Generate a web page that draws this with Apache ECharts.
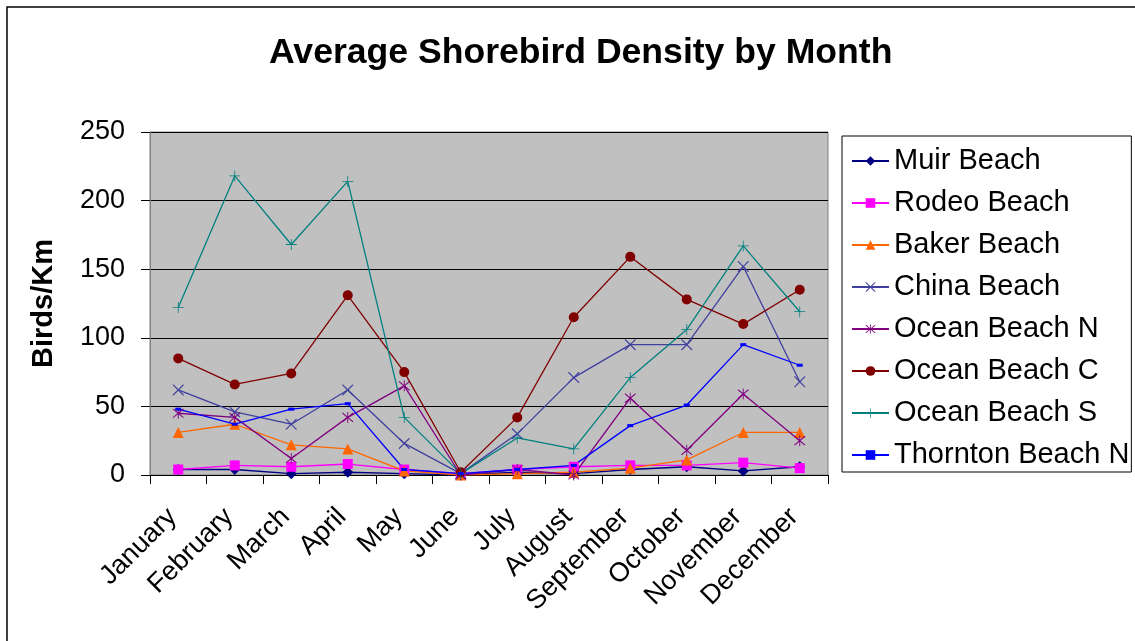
<!DOCTYPE html>
<html>
<head>
<meta charset="utf-8">
<title>Average Shorebird Density by Month</title>
<script src="https://cdn.jsdelivr.net/npm/echarts@6/dist/echarts.min.js"></script>
<style>
	html, body { margin: 0; padding: 0; background: #fff; }
	#chart { width: 1135px; height: 641px; }
</style>
</head>
<body>
<div id="chart"></div>
<script>
'use strict';

var months = ['January', 'February', 'March', 'April', 'May', 'June',
	'July', 'August', 'September', 'October', 'November', 'December'];

var muirBeach      = [4, 4, 1, 2, 1, 0, 2, 1, 4, 6, 3, 6];
var rodeoBeach     = [4, 7, 6, 8, 4, 1, 4, 6, 7, 7, 9, 5];
var bakerBeach     = [31, 37, 22, 19, 3, 0, 1, 2, 5, 11, 31, 31];
var chinaBeach     = [62, 46, 37, 62, 23, 1, 30, 71, 95, 95, 152, 68];
var oceanBeachN    = [45, 42, 12, 42, 65, 0, 4, 0, 56, 18, 59, 25];
var oceanBeachC    = [85, 66, 74, 131, 75, 2, 42, 115, 159, 128, 110, 135];
var oceanBeachS    = [122, 218, 168, 214, 42, 1, 27, 19, 71, 106, 167, 119];
var thorntonBeachN = [48, 37, 48, 52, 4, 1, 4, 7, 36, 51, 95, 80];

var yTicks = { min: 0, max: 250, interval: 50 };

(function(){

	// marker shapes drawn as filled paths
	var crossPath = 'path://M0,0L1.5,0L10,8.5L18.5,0L20,0L20,1.5L11.5,10L20,18.5L20,20L18.5,20L10,11.5L1.5,20L0,20L0,18.5L8.5,10L0,1.5Z';
	var plusPath = 'path://M9.3,0H10.7V9.3H20V10.7H10.7V20H9.3V10.7H0V9.3H9.3Z';
	var starPath = 'path://M0,0L1.5,0L10,8.5L18.5,0L20,0L20,1.5L11.5,10L20,18.5L20,20L18.5,20L10,11.5L1.5,20L0,20L0,18.5L8.5,10L0,1.5Z' +
		'M9.2,-2H10.8V22H9.2Z';

	var defs = [
		{ name: 'Muir Beach', data: muirBeach, color: '#000080', symbol: 'diamond', size: 11 },
		{ name: 'Rodeo Beach', data: rodeoBeach, color: '#FF00FF', symbol: 'rect', size: 10 },
		{ name: 'Baker Beach', data: bakerBeach, color: '#FF6600', symbol: 'triangle', size: 11 },
		{ name: 'China Beach', data: chinaBeach, color: '#3F3F9F', symbol: crossPath, size: 11 },
		{ name: 'Ocean Beach N', data: oceanBeachN, color: '#800080', symbol: starPath, size: 11 },
		{ name: 'Ocean Beach C', data: oceanBeachC, color: '#800000', symbol: 'circle', size: 10 },
		{ name: 'Ocean Beach S', data: oceanBeachS, color: '#008080', symbol: plusPath, size: 11 },
		{ name: 'Thornton Beach N', data: thorntonBeachN, color: '#0000FF', symbol: 'rect', size: [6, 3] }
	];

	var series = defs.map(function(d){
		return {
			type: 'line',
			name: d.name,
			data: d.data,
			symbol: d.symbol,
			symbolSize: d.size,
			showAllSymbol: true,
			animation: false,
			lineStyle: { color: d.color, width: 1.3 },
			itemStyle: { color: d.color, borderWidth: 0 }
		};
	});

	var font = 'Liberation Sans, Arial, sans-serif';

	var option = {
		animation: false,
		textStyle: { fontFamily: font },
		graphic: [{
			type: 'rect',
			shape: { x: 7, y: 7, width: 1200, height: 700 },
			style: { fill: 'none', stroke: '#000', lineWidth: 1.5 },
			silent: true
		}],
		title: {
			text: 'Average Shorebird Density by Month',
			left: 264,
			top: 30,
			textStyle: { fontSize: 35.6, fontWeight: 'bold', color: '#000', fontFamily: font }
		},
		legend: {
			orient: 'vertical',
			left: 842,
			top: 136,
			padding: [10, 2, 2, 9],
			itemWidth: 37,
			itemHeight: 12,
			itemGap: 12,
			borderColor: '#000',
			borderWidth: 1,
			backgroundColor: '#fff',
			textStyle: { fontSize: 29, color: '#000', lineHeight: 30, fontFamily: font },
			data: defs.map(function(d){ return d.name; })
		},
		grid: {
			left: 150,
			right: 307,
			top: 132,
			bottom: 166,
			show: true,
			backgroundColor: '#C0C0C0',
			borderColor: '#808080',
			borderWidth: 1
		},
		xAxis: {
			type: 'category',
			data: months,
			boundaryGap: true,
			axisLine: { lineStyle: { color: '#000', width: 1 } },
			axisTick: { show: true, length: 9, lineStyle: { color: '#000' } },
			axisLabel: {
				rotate: 45,
				interval: 0,
				fontSize: 27,
				color: '#000',
				margin: 32,
				padding: [0, 8, 0, 0],
				fontFamily: font
			}
		},
		yAxis: {
			type: 'value',
			min: yTicks.min,
			max: yTicks.max,
			interval: yTicks.interval,
			name: 'Birds/Km',
			nameLocation: 'middle',
			nameRotate: 90,
			nameGap: 92,
			nameTextStyle: { fontSize: 29, fontWeight: 'bold', color: '#000', fontFamily: font },
			axisLine: { show: true, lineStyle: { color: '#808080' } },
			axisTick: { show: true, length: 9, lineStyle: { color: '#000' } },
			axisLabel: { fontSize: 27, color: '#000', margin: 25, fontFamily: font },
			splitLine: { show: true, lineStyle: { color: '#000', width: 1 } }
		},
		series: series
	};

	echarts.init(document.getElementById('chart')).setOption(option);

})();
</script>
</body>
</html>
